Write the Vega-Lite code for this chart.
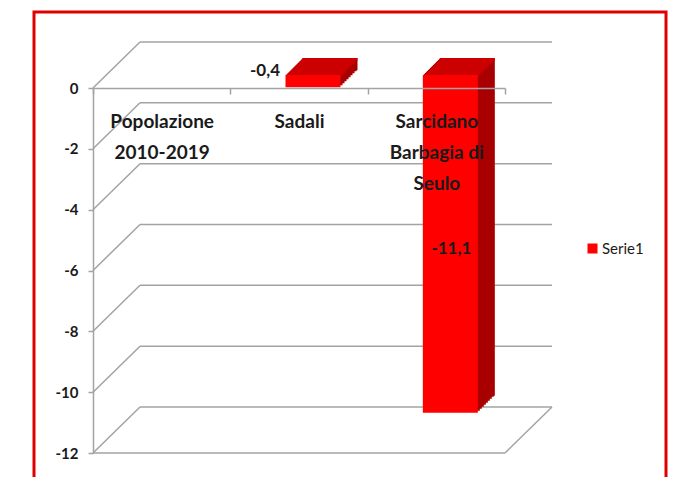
{
  "$schema": "https://vega.github.io/schema/vega-lite/v6.json",
  "width": 632,
  "height": 467,
  "autosize": "none",
  "padding": {"left": 34, "top": 12, "right": 15, "bottom": 0},
  "background": "white",
  "config": {
    "view": {"stroke": "#e00000", "strokeWidth": 3},
    "locale": {"number": {"decimal": ",", "thousands": ".", "grouping": [3], "currency": ["", " €"], "minus": "-"}},
    "font": "Lato",
    "axis": {"grid": false, "title": null, "domainColor": "#a3a3a3", "domainWidth": 1.5, "tickColor": "#a3a3a3", "tickWidth": 1.5, "labelFont": "Lato", "labelFontWeight": "bold", "labelColor": "#1a1a1a"}
  },
  "datasets": {
    "bars": [
      {"category": "Sadali", "value": -0.4, "series": "Serie1"},
      {"category": "Sarcidano Barbagia di Seulo", "value": -11.1, "series": "Serie1"}
    ],
    "levels": [{"level": 0}, {"level": -2}, {"level": -4}, {"level": -6}, {"level": -8}, {"level": -10}, {"level": -12}],
    "floor": [{"level": -12}]
  },
  "layer": [
    {
      "data": {"name": "levels"},
      "mark": {"type": "rule", "color": "#a3a3a3", "strokeWidth": 1.5, "x2Offset": 47, "y2Offset": -46},
      "encoding": {
        "x": {"datum": "Popolazione 2010-2019", "bandPosition": 0, "title": null, "scale": {"type": "band", "domain": ["Popolazione 2010-2019", "Sadali", "Sarcidano Barbagia di Seulo"], "range": [59, 471], "paddingInner": 0, "paddingOuter": 0}},
        "x2": {"datum": "Popolazione 2010-2019", "bandPosition": 0},
        "y": {"field": "level", "type": "quantitative", "title": null, "scale": {"domain": [-12, 0], "range": [441, 76], "nice": false, "zero": false}},
        "y2": {"field": "level"}
      }
    },
    {
      "data": {"name": "levels"},
      "mark": {"type": "rule", "color": "#a3a3a3", "strokeWidth": 1.5, "xOffset": 47, "x2Offset": 47, "yOffset": -46},
      "encoding": {
        "x": {"datum": "Popolazione 2010-2019", "bandPosition": 0, "title": null},
        "x2": {"datum": "Sarcidano Barbagia di Seulo", "bandPosition": 1},
        "y": {"field": "level", "type": "quantitative", "title": null}
      }
    },
    {
      "data": {"name": "floor"},
      "mark": {"type": "rule", "color": "#a3a3a3", "strokeWidth": 1.5},
      "encoding": {
        "x": {"datum": "Popolazione 2010-2019", "bandPosition": 0, "title": null},
        "x2": {"datum": "Sarcidano Barbagia di Seulo", "bandPosition": 1},
        "y": {"field": "level", "type": "quantitative", "title": null}
      }
    },
    {
      "data": {"name": "floor"},
      "mark": {"type": "rule", "color": "#a3a3a3", "strokeWidth": 1.5, "x2Offset": 47, "y2Offset": -46},
      "encoding": {
        "x": {"datum": "Sarcidano Barbagia di Seulo", "bandPosition": 1, "title": null},
        "x2": {"datum": "Sarcidano Barbagia di Seulo", "bandPosition": 1},
        "y": {"field": "level", "type": "quantitative", "title": null},
        "y2": {"field": "level"}
      }
    },
    {"data": {"name": "bars"}, "mark": {"type": "bar", "width": 55, "color": "#a80000", "xOffset": 16, "yOffset": -15, "y2Offset": -15}, "encoding": {"x": {"field": "category", "type": "nominal", "title": null}, "y": {"field": "value", "type": "quantitative", "title": null}, "y2": {"datum": 0}}},
    {"data": {"name": "bars"}, "mark": {"type": "bar", "width": 55, "color": "#a80000", "xOffset": 18, "yOffset": -17, "y2Offset": -17}, "encoding": {"x": {"field": "category", "type": "nominal", "title": null}, "y": {"field": "value", "type": "quantitative", "title": null}, "y2": {"datum": 0}}},
    {"data": {"name": "bars"}, "mark": {"type": "bar", "width": 55, "color": "#a80000", "xOffset": 20, "yOffset": -19, "y2Offset": -19}, "encoding": {"x": {"field": "category", "type": "nominal", "title": null}, "y": {"field": "value", "type": "quantitative", "title": null}, "y2": {"datum": 0}}},
    {"data": {"name": "bars"}, "mark": {"type": "bar", "width": 55, "color": "#a80000", "xOffset": 22, "yOffset": -21, "y2Offset": -21}, "encoding": {"x": {"field": "category", "type": "nominal", "title": null}, "y": {"field": "value", "type": "quantitative", "title": null}, "y2": {"datum": 0}}},
    {"data": {"name": "bars"}, "mark": {"type": "bar", "width": 55, "color": "#a80000", "xOffset": 24, "yOffset": -23, "y2Offset": -23}, "encoding": {"x": {"field": "category", "type": "nominal", "title": null}, "y": {"field": "value", "type": "quantitative", "title": null}, "y2": {"datum": 0}}},
    {"data": {"name": "bars"}, "mark": {"type": "bar", "width": 55, "color": "#a80000", "xOffset": 26, "yOffset": -25, "y2Offset": -25}, "encoding": {"x": {"field": "category", "type": "nominal", "title": null}, "y": {"field": "value", "type": "quantitative", "title": null}, "y2": {"datum": 0}}},
    {"data": {"name": "bars"}, "mark": {"type": "bar", "width": 55, "color": "#a80000", "xOffset": 28, "yOffset": -27, "y2Offset": -27}, "encoding": {"x": {"field": "category", "type": "nominal", "title": null}, "y": {"field": "value", "type": "quantitative", "title": null}, "y2": {"datum": 0}}},
    {"data": {"name": "bars"}, "mark": {"type": "bar", "width": 55, "color": "#a80000", "xOffset": 30, "yOffset": -29, "y2Offset": -29}, "encoding": {"x": {"field": "category", "type": "nominal", "title": null}, "y": {"field": "value", "type": "quantitative", "title": null}, "y2": {"datum": 0}}},
    {"data": {"name": "bars"}, "mark": {"type": "bar", "width": 55, "color": "#a80000", "xOffset": 31, "yOffset": -30, "y2Offset": -30}, "encoding": {"x": {"field": "category", "type": "nominal", "title": null}, "y": {"field": "value", "type": "quantitative", "title": null}, "y2": {"datum": 0}}},
    {"data": {"name": "bars"}, "mark": {"type": "bar", "width": 55, "color": "#cc0000", "xOffset": 15, "yOffset": -14, "y2Offset": -11.5}, "encoding": {"x": {"field": "category", "type": "nominal", "title": null}, "y": {"datum": 0, "title": null}, "y2": {"datum": 0}}},
    {"data": {"name": "bars"}, "mark": {"type": "bar", "width": 55, "color": "#cc0000", "xOffset": 17, "yOffset": -16, "y2Offset": -13.5}, "encoding": {"x": {"field": "category", "type": "nominal", "title": null}, "y": {"datum": 0, "title": null}, "y2": {"datum": 0}}},
    {"data": {"name": "bars"}, "mark": {"type": "bar", "width": 55, "color": "#cc0000", "xOffset": 19, "yOffset": -18, "y2Offset": -15.5}, "encoding": {"x": {"field": "category", "type": "nominal", "title": null}, "y": {"datum": 0, "title": null}, "y2": {"datum": 0}}},
    {"data": {"name": "bars"}, "mark": {"type": "bar", "width": 55, "color": "#cc0000", "xOffset": 21, "yOffset": -20, "y2Offset": -17.5}, "encoding": {"x": {"field": "category", "type": "nominal", "title": null}, "y": {"datum": 0, "title": null}, "y2": {"datum": 0}}},
    {"data": {"name": "bars"}, "mark": {"type": "bar", "width": 55, "color": "#cc0000", "xOffset": 23, "yOffset": -22, "y2Offset": -19.5}, "encoding": {"x": {"field": "category", "type": "nominal", "title": null}, "y": {"datum": 0, "title": null}, "y2": {"datum": 0}}},
    {"data": {"name": "bars"}, "mark": {"type": "bar", "width": 55, "color": "#cc0000", "xOffset": 25, "yOffset": -24, "y2Offset": -21.5}, "encoding": {"x": {"field": "category", "type": "nominal", "title": null}, "y": {"datum": 0, "title": null}, "y2": {"datum": 0}}},
    {"data": {"name": "bars"}, "mark": {"type": "bar", "width": 55, "color": "#cc0000", "xOffset": 27, "yOffset": -26, "y2Offset": -23.5}, "encoding": {"x": {"field": "category", "type": "nominal", "title": null}, "y": {"datum": 0, "title": null}, "y2": {"datum": 0}}},
    {"data": {"name": "bars"}, "mark": {"type": "bar", "width": 55, "color": "#cc0000", "xOffset": 29, "yOffset": -28, "y2Offset": -25.5}, "encoding": {"x": {"field": "category", "type": "nominal", "title": null}, "y": {"datum": 0, "title": null}, "y2": {"datum": 0}}},
    {"data": {"name": "bars"}, "mark": {"type": "bar", "width": 55, "color": "#cc0000", "xOffset": 31, "yOffset": -30, "y2Offset": -27.5}, "encoding": {"x": {"field": "category", "type": "nominal", "title": null}, "y": {"datum": 0, "title": null}, "y2": {"datum": 0}}},
    {
      "data": {"name": "bars"},
      "mark": {"type": "bar", "width": 55, "xOffset": 14, "yOffset": -13, "y2Offset": -13},
      "encoding": {
        "x": {"field": "category", "type": "nominal", "title": null, "axis": {"orient": "bottom", "offset": -391, "title": null, "grid": false, "zindex": 1, "tickSize": 6, "tickBand": "extent", "labelAngle": 0, "labelAlign": "center", "labelFontSize": 19, "labelBaseline": "top", "labelPadding": 18, "labelLineHeight": 31, "labelExpr": "datum.value == 'Popolazione 2010-2019' ? ['Popolazione', '2010-2019'] : datum.value == 'Sarcidano Barbagia di Seulo' ? ['Sarcidano', 'Barbagia di', 'Seulo'] : datum.value"}},
        "y": {"field": "value", "type": "quantitative", "title": null, "axis": {"orient": "left", "offset": -59, "title": null, "grid": false, "values": [0, -2, -4, -6, -8, -10, -12], "format": "d", "tickSize": 5, "labelFontSize": 15, "labelPadding": 10}},
        "y2": {"datum": 0},
        "color": {"field": "series", "type": "nominal", "scale": {"range": ["#ff0000"]}, "legend": {"orient": "none", "legendX": 551, "legendY": 229, "title": null, "padding": 0, "symbolType": "square", "symbolSize": 100, "symbolStrokeWidth": 0, "labelFont": "Lato", "labelFontSize": 15, "labelColor": "#1a1a1a", "labelOffset": 2}}
      }
    },
    {
      "data": {"name": "bars"},
      "transform": [{"filter": "datum.category == 'Sadali'"}],
      "mark": {"type": "text", "align": "right", "baseline": "middle", "dx": -19, "dy": -29, "font": "Lato", "fontWeight": "bold", "fontSize": 17, "color": "#1a1a1a"},
      "encoding": {
        "x": {"field": "category", "type": "nominal", "title": null},
        "y": {"field": "value", "type": "quantitative", "title": null},
        "text": {"field": "value", "type": "quantitative", "format": ".1f"}
      }
    },
    {
      "data": {"name": "bars"},
      "transform": [{"filter": "datum.category == 'Sarcidano Barbagia di Seulo'"}],
      "mark": {"type": "text", "align": "center", "baseline": "middle", "dx": 15, "dy": -177, "font": "Lato", "fontWeight": "bold", "fontSize": 17, "color": "#1a1a1a"},
      "encoding": {
        "x": {"field": "category", "type": "nominal", "title": null},
        "y": {"field": "value", "type": "quantitative", "title": null},
        "text": {"field": "value", "type": "quantitative", "format": ".1f"}
      }
    }
  ]
}
